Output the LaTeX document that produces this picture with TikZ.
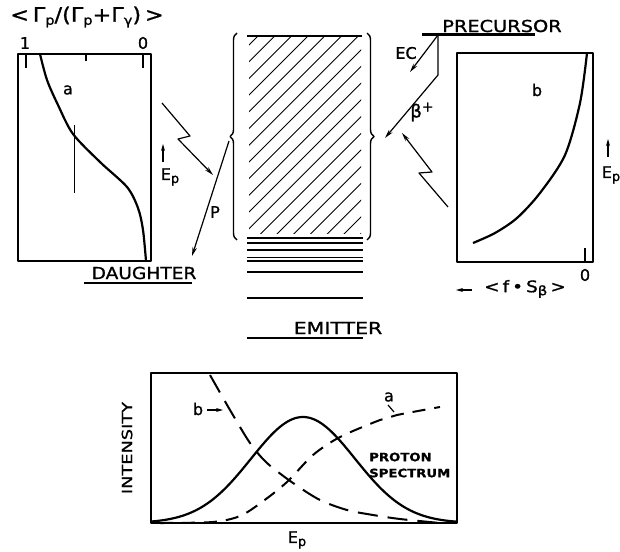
\documentclass[tikz,border=0pt]{standalone}
\usepackage{fontspec}
\setmainfont{DejaVu Sans}[FakeBold=1.0]
\usetikzlibrary{arrows.meta,decorations.pathreplacing}
\newcommand{\subp}[1]{\raisebox{-3pt}{\fontsize{13}{13}\selectfont #1}}
\begin{document}
\begin{tikzpicture}[x=1pt,y=-1pt,line join=round,
  lbl/.style={inner sep=0pt,font=\fontsize{16}{16}\selectfont},
  caps/.style={inner sep=0pt,font=\fontsize{16.5}{16.5}\selectfont,xscale=1.15},
  frame/.style={line width=1.8pt},
  curve/.style={line width=2.2pt},
  hatch/.style={line width=0.9pt},
  levelline/.style={line width=1.6pt},
  ulinestyle/.style={line width=2.6pt},
  arr/.style={line width=1.2pt,-{Stealth[length=9pt,width=4.5pt]}},
  smallarr/.style={line width=1.2pt,-{Stealth[length=7pt,width=4pt]}},
  bracestyle/.style={line width=1.4pt,decorate,decoration={brace,amplitude=7pt}}
]
\useasboundingbox (0,0) rectangle (620,551);

% ---------- left box (curve a) ----------
\node[inner sep=0pt,font=\fontsize{20}{20}\selectfont,xscale=1.12] (title) at (87,17)
  {<\,Γ\subp{p}/(Γ\subp{p}+Γ\subp{γ})\,>};
\draw[frame] (18,54) rectangle (151,261);
\draw[line width=1.5pt] (26,54) -- (26,68) (86,54) -- (86,61) (143,54) -- (143,68);
\node[lbl] (one) at (25,43) {1};
\node[lbl] (zeroL) at (143,43) {0};
\node[lbl] (la) at (68,90) {a};
\draw[line width=0.8pt] (74,125) -- (74,193);
\draw[curve] plot[smooth] coordinates {(40,54) (47,80) (58,105) (73,134) (100,162) (127,187) (138,208) (143,230) (146,261)};
\draw[smallarr] (163,162) -- (163,144);
\node[lbl] (epL) at (170,177) {E\subp{p}};

% ---------- daughter ----------
\node[caps,xscale=0.98] (daughter) at (144,273) {DAUGHTER};
\draw[ulinestyle] (84,283) -- (192,283);

% ---------- center column ----------
\begin{scope}
  \clip (249,37) rectangle (361,233);
  \foreach \k in {0,...,19} {
    \draw[hatch] ({294+16.7*\k-320},320) -- ({294+16.7*\k},0);
  }
\end{scope}
\draw[line width=1.6pt] (247,36) -- (362,36);
\foreach \yy in {238,243,250,257.5,261,272,298} {
  \draw[levelline] (247,\yy) -- (363,\yy);
}
\draw[bracestyle] (237,240) -- (237,33);
\draw[bracestyle] (367,33) -- (367,240);
\node[caps,xscale=1.08] (emitter) at (338,328) {EMITTER};
\draw[ulinestyle] (247,338) -- (363,338);

% ---------- precursor / right box ----------
\node[caps,xscale=1.02] (precursor) at (502,26) {PRECURSOR};
\draw[line width=3pt] (422,35) -- (535,35);
\coordinate (pc) at (438,35);
\coordinate (ecend) at (410,72);
\coordinate (bk) at (438,75);
\coordinate (bend) at (385,138);
\draw[arr] (pc) -- (ecend);
\draw[arr] (pc) -- (bk) -- (bend);
\node[lbl] (ec) at (406,53) {EC};
\node[lbl,font=\fontsize{18}{18}\selectfont] (beta) at (422,112) {β\raisebox{6pt}{\fontsize{14}{14}\selectfont +}};

\draw[frame] (457,53) rectangle (593,262);
\draw[line width=1.5pt] (585,248) -- (585,262);
\node[lbl] (zeroR) at (585,275) {0};
\node[lbl] (lb) at (537,90) {b};
\draw[curve] plot[smooth] coordinates {(587,53) (580,103) (565,155) (540,193) (517,218) (495,233) (473,243)};
\draw[smallarr] (608,157) -- (608,139);
\node[lbl] (epR) at (611,175) {E\subp{p}};
\coordinate (fsa) at (472,290);
\coordinate (fsb) at (456,290);
\draw[smallarr] (fsa) -- (fsb);
\node[lbl,font=\fontsize{16}{16}\selectfont,xscale=1.15] (fs) at (525,289) {<\,f\,•\,S\subp{β}\,>};

% ---------- zigzag connectors and P ----------
\coordinate (zlA) at (162,103);
\coordinate (zlB) at (190,136);
\coordinate (zlC) at (178,139);
\coordinate (zlD) at (213,175);
\draw[arr] (zlA) -- (zlB) -- (zlC) -- (zlD);
\coordinate (ptop) at (229,141);
\coordinate (pend) at (192,256);
\draw[arr] (ptop) -- (pend);
\node[lbl] (plab) at (215,212) {P};
\coordinate (zrA) at (448,207);
\coordinate (zrB) at (419,173);
\coordinate (zrC) at (432,172);
\coordinate (zrD) at (402,133);
\draw[arr] (zrA) -- (zrB) -- (zrC) -- (zrD);

% ---------- bottom spectrum ----------
\draw[frame] (151,373) rectangle (457,523);
\draw[line width=2.6pt] (151,523) -- (457,523);
\node[inner sep=0pt,font=\fontsize{14}{14}\selectfont,rotate=90,xscale=1.27] (intensity) at (127,448) {INTENSITY};
\node[lbl,font=\fontsize{16}{16}\selectfont] (epB) at (297,540) {E\subp{p}};
\draw[curve] plot[domain=151:457,samples=120] (\x,{523-106*exp(-((\x-303)/52)^2/2)});
\draw[line width=2pt,dash pattern=on 20pt off 10pt] plot[smooth] coordinates {(210,375) (230,410) (250,443) (267,463) (293,483) (320,500) (347,510) (373,515) (400,519) (440,523)};
\draw[line width=2pt,dash pattern=on 13pt off 9pt] plot[smooth] coordinates {(160,523) (213,522) (240,516) (262,502) (287,482) (313,455) (340,437) (380,420) (397,415) (440,407)};
\node[lbl] (bb) at (198,409) {b};
\coordinate (bba) at (207,410);
\coordinate (bbb) at (223,410);
\draw[smallarr] (bba) -- (bbb);
\node[lbl] (ba) at (389,397) {a};
\coordinate (hka) at (388,405);
\coordinate (hkb) at (394,412);
\draw[line width=1.2pt] (hka) -- (hkb);
\node[inner sep=0pt,anchor=west,align=left,font=\bfseries\fontsize{11.5}{16}\selectfont,xscale=1.15] (proton) at (369,465) {PROTON\\SPECTRUM};
\end{tikzpicture}
\end{document}
